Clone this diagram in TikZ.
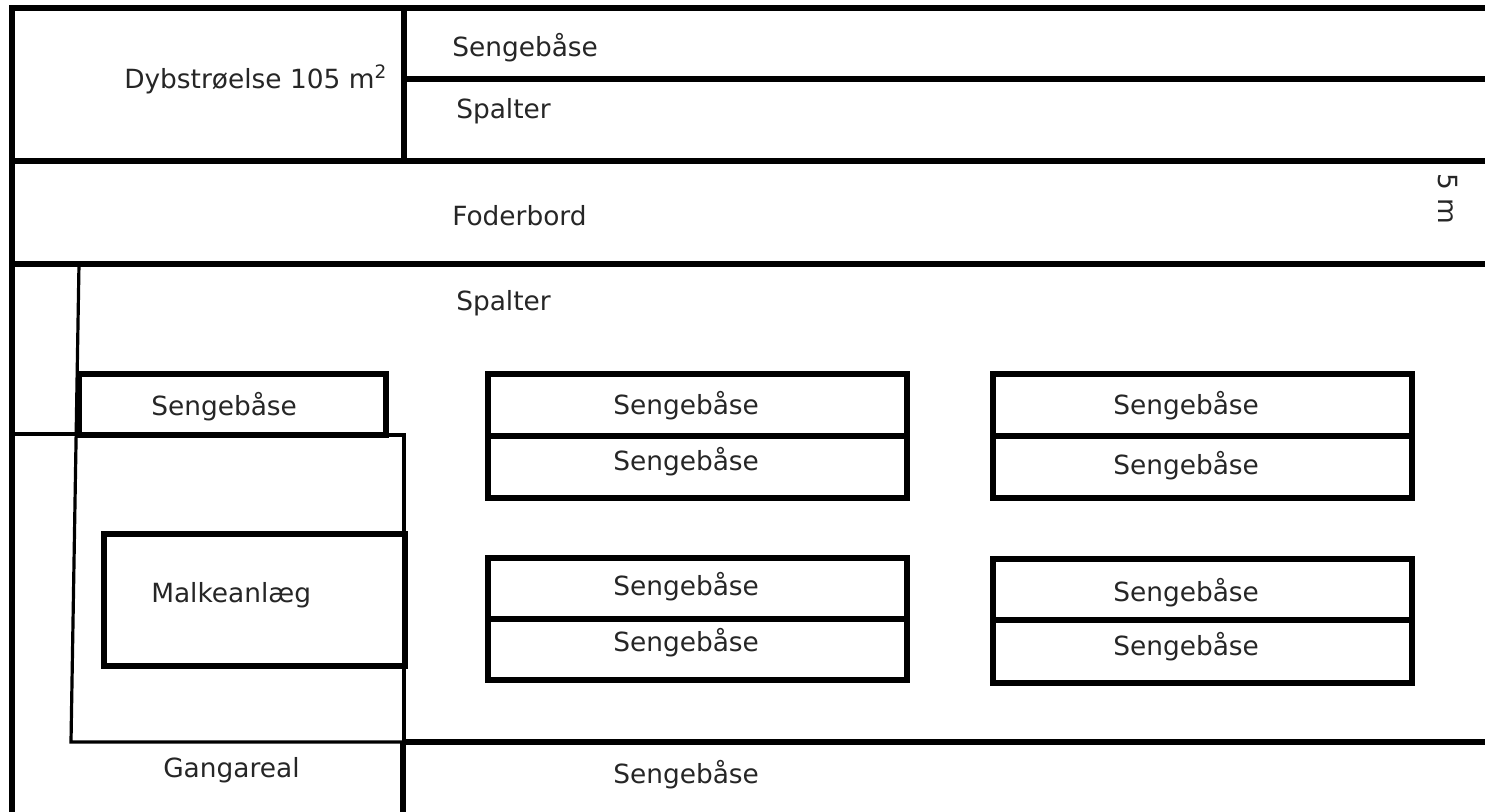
\documentclass[tikz,border=0pt]{standalone}
\usepackage{fontspec}
\setmainfont{DejaVu Sans}
\begin{document}
\begin{tikzpicture}[x=0.75pt,y=-0.75pt,
  thk/.style={line width=4pt},
  thn/.style={line width=2.4pt},
  lbl/.style={anchor=base west, inner sep=0pt, font=\fontsize{19.8}{23}\selectfont, text=black!85}]
\useasboundingbox (0,0) rectangle (1485,812);
\fill[white] (0,0) rectangle (1485,812);
% outer frame and bands
\draw[thk] (1485,8) -- (12,8) -- (12,812);
\draw[thk] (404,8) -- (404,161);
\draw[thk] (404,79) -- (1485,79);
\draw[thk] (12,161) -- (1485,161);
\draw[thk] (12,264) -- (1485,264);
% left thin lines
\draw[thn] (12,434) -- (78,434);
\draw[thn] (79,264) -- (71,742) -- (404,742);
\draw[thn] (386,435) -- (404,435) -- (404,742);
% small box and milking parlour
\draw[thk] (79,374) rectangle (386,435);
\draw[thk] (104,534) rectangle (405,666);
% bottom band
\draw[thk] (404,742) -- (1485,742);
\draw[thk] (403,742) -- (403,812);
% middle column boxes
\draw[thk] (488,374) rectangle (907,498);
\draw[thk] (488,436) -- (907,436);
\draw[thk] (488,558) rectangle (907,680);
\draw[thk] (488,619) -- (907,619);
% right column boxes
\draw[thk] (993,374) rectangle (1412,498);
\draw[thk] (993,436) -- (1412,436);
\draw[thk] (993,559) rectangle (1412,683);
\draw[thk] (993,620) -- (1412,620);
% labels
\node[lbl] (dyb) at (124,89) {Dybstrøelse 105 m\textsuperscript{2}};
\node[lbl] (s1) at (452,57) {Sengebåse};
\node[lbl] (sp1) at (456,119) {Spalter};
\node[lbl] (fod) at (452,226) {Foderbord};
\node[lbl] (sp2) at (456,311) {Spalter};
\node[lbl] (s2) at (151,416) {Sengebåse};
\node[lbl] (malk) at (151,602) {Malkeanlæg};
\node[lbl] (gang) at (163,777) {Gangareal};
\node[lbl] (s3) at (613,783) {Sengebåse};
\node[lbl] (m1) at (613,415) {Sengebåse};
\node[lbl] (m2) at (613,471) {Sengebåse};
\node[lbl] (m3) at (613,595) {Sengebåse};
\node[lbl] (m4) at (613,651) {Sengebåse};
\node[lbl] (r1) at (1113,415) {Sengebåse};
\node[lbl] (r2) at (1113,475) {Sengebåse};
\node[lbl] (r3) at (1113,601) {Sengebåse};
\node[lbl] (r4) at (1113,655) {Sengebåse};
\node[inner sep=0pt, rotate=-90, font=\fontsize{19.8}{23}\selectfont, text=black!85] (fivem) at (1448,199) {5 m};
\end{tikzpicture}
\end{document}
